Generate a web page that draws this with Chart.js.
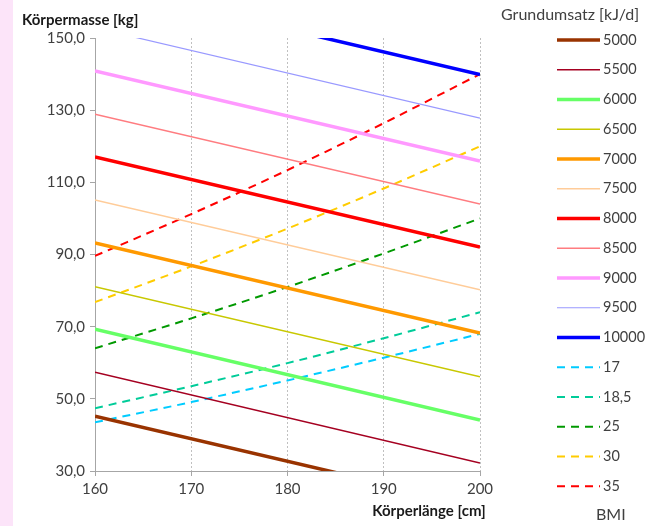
<!DOCTYPE html>
<html>
<head>
<meta charset="utf-8">
<script src="https://cdn.jsdelivr.net/npm/chart.js@4.4.0/dist/chart.umd.min.js"></script>
<style>
  html, body { margin: 0; padding: 0; background: #fff; }
  #wrap { position: relative; width: 650px; height: 526px; }
  #strip { position: absolute; left: 0; top: 0; width: 13px; height: 526px; background: #fce4f9; }
  canvas { position: absolute; left: 0; top: 0; }
</style>
</head>
<body>
<div id="wrap">
  <div id="strip"></div>
  <canvas id="myChart" width="650" height="526"></canvas>
</div>
<script>
// Daten
var laengen = [160, 200];
var grundumsatz = ['5000', '5500', '6000', '6500', '7000', '7500', '8000', '8500', '9000', '9500', '10000'];
var gu5000  = [45.2, 20.2];
var gu5500  = [57.4, 32.2];
var gu6000  = [69.3, 44.1];
var gu6500  = [81.1, 56.1];
var gu7000  = [93.2, 68.2];
var gu7500  = [105.1, 80.2];
var gu8000  = [117.0, 92.1];
var gu8500  = [128.9, 104.0];
var gu9000  = [140.9, 115.9];
var gu9500  = [152.8, 127.8];
var gu10000 = [164.9, 139.9];

var bmiLaengen = [160, 170, 180, 190, 200];
var bmiWerte = ['17', '18,5', '25', '30', '35'];
var bmi17   = [43.5, 49.1, 55.1, 61.4, 68.0];
var bmi185  = [47.4, 53.5, 59.9, 66.8, 74.0];
var bmi25   = [64.0, 72.3, 81.0, 90.3, 100.0];
var bmi30   = [76.8, 86.7, 97.2, 108.3, 120.0];
var bmi35   = [89.6, 101.2, 113.4, 126.4, 140.0];

var yTicks = [30, 50, 70, 90, 110, 130, 150];
var xTicks = [160, 170, 180, 190, 200];

function punkte(xs, ys) {
  return xs.map((x, i) => ({ x: x, y: ys[i] }));
}

var guDaten = [gu5000, gu5500, gu6000, gu6500, gu7000, gu7500, gu8000, gu8500, gu9000, gu9500, gu10000];
var guFarben = ['#993300', '#a50021', '#66ff66', '#c8c800', '#ff9900', '#ffcc99', '#ff0000', '#ff7c80', '#ff99ff', '#9999ff', '#0000ff'];
var guBreite = [3.5, 1.5, 3.5, 1.5, 3.5, 1.5, 3.5, 1.5, 3.5, 1.2, 3.5];

var bmiDaten = [bmi17, bmi185, bmi25, bmi30, bmi35];
var bmiFarben = ['#00ccff', '#00cc99', '#009900', '#ffcc00', '#ff0000'];

var datasets = [];
grundumsatz.forEach((name, i) => {
  datasets.push({
    label: name,
    data: punkte(laengen, guDaten[i]),
    borderColor: guFarben[i],
    borderWidth: guBreite[i],
    pointRadius: 0,
    tension: 0
  });
});
bmiWerte.forEach((name, i) => {
  datasets.push({
    label: name,
    data: punkte(bmiLaengen, bmiDaten[i]),
    borderColor: bmiFarben[i],
    borderWidth: 2,
    borderDash: [8, 6],
    pointRadius: 0,
    tension: 0.4,
    cubicInterpolationMode: 'monotone'
  });
});

var schrift = 'Lato, "Open Sans", sans-serif';

// Legende + Achsentitel selbst zeichnen
const beschriftung = {
  id: 'beschriftung',
  afterDraw(chart) {
    const c = chart.ctx;
    c.save();
    c.fillStyle = '#404040';
    c.font = '16px ' + schrift;
    c.textBaseline = 'middle';
    c.textAlign = 'left';
    c.fillText('Grundumsatz [kJ/d]', 501, 15);

    chart.data.datasets.forEach((ds, i) => {
      const y = 40 + i * 29.75;
      c.strokeStyle = ds.borderColor;
      c.lineWidth = ds.borderWidth;
      c.setLineDash(ds.borderDash || []);
      c.beginPath();
      c.moveTo(557, y);
      c.lineTo(600, y);
      c.stroke();
      c.setLineDash([]);
      c.fillStyle = '#404040';
      c.font = '14.5px ' + schrift;
      c.fillText(ds.label, 603, y);
    });
    c.font = '16px ' + schrift;
    c.fillText('BMI', 596, 515);

    c.fillStyle = '#1a1a1a';
    c.font = 'bold 15px ' + schrift;
    c.fillText('Körpermasse [kg]', 22, 20);
    c.textAlign = 'center';
    c.fillText('Körperlänge [cm]', 429, 511);
    c.restore();
  }
};

new Chart(document.getElementById('myChart'), {
  type: 'line',
  data: { datasets: datasets },
  plugins: [beschriftung],
  options: {
    responsive: false,
    animation: false,
    layout: { padding: { left: 13, top: 38, right: 170, bottom: 0 } },
    plugins: {
      legend: { display: false },
      tooltip: { enabled: false }
    },
    scales: {
      x: {
        type: 'linear',
        min: 160,
        max: 200,
        afterFit: (s) => { s.height = 55; },
        afterBuildTicks: (s) => { s.ticks = xTicks.map(v => ({ value: v })); },
        ticks: {
          color: '#404040',
          font: { family: schrift, size: 15 },
          padding: 4
        },
        grid: {
          color: (ctx) => ctx.tick && ctx.tick.value === 160 ? 'rgba(0,0,0,0)' : '#c0c0c0',
          tickBorderDash: [],
          tickColor: '#a6a6a6',
          tickLength: 5,
          lineWidth: 1
        },
        border: { color: '#a6a6a6', width: 1, dash: [2, 2] }
      },
      y: {
        min: 30,
        max: 150,
        afterFit: (s) => { s.width = 82; },
        afterBuildTicks: (s) => { s.ticks = yTicks.map(v => ({ value: v })); },
        ticks: {
          color: '#404040',
          font: { family: schrift, size: 15 },
          padding: 5,
          callback: (v) => v.toFixed(1).replace('.', ',')
        },
        grid: {
          drawOnChartArea: false,
          tickColor: '#a6a6a6',
          tickLength: 5
        },
        border: { color: '#a6a6a6', width: 1 }
      }
    }
  }
});
</script>
</body>
</html>
